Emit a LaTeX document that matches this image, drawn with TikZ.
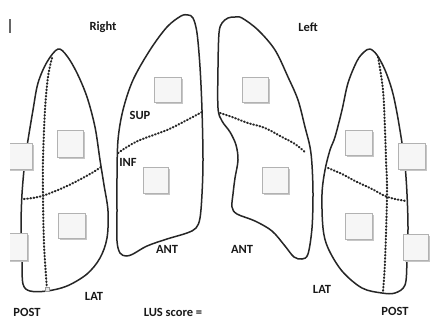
\documentclass[tikz,border=0pt]{standalone}
\usepackage{fontspec}
\setmainfont{Carlito}
\begin{document}
\begin{tikzpicture}[x=1pt,y=-1pt,
  lung/.style={draw=black!85,line width=1.5pt,line join=round},
  zone/.style={draw=black!85,line width=2.1pt,dash pattern=on 0.7pt off 2.5pt,line cap=round},
  probe/.style={fill=gray!7,draw=gray!60,line width=1pt},
  probeshadow/.style={fill=gray!45,draw=none},
  lbl/.style={font=\bfseries\fontsize{12.5}{13}\selectfont,text=black!90,inner sep=0pt}]
\useasboundingbox (0,0) rectangle (435,322);
\fill[white] (0,0) rectangle (435,322);

% small mark at the upper left edge
\draw[black!60,line width=1.6pt] (10,19) -- (10,33);

% right lung, lateral view
\draw[lung] plot[smooth cycle,tension=0.55] coordinates {
  (58,49) (67,56) (77,73) (87,97) (95,127) (100,160) (104,185) (108,211)
  (107,238) (100,258) (87,274) (67,286) (47,291) (30,291) (23,284) (22,261)
  (21,228) (22,194) (25,160) (28,140) (33,110) (38,83) (47,62)};
\draw[zone] plot[smooth,tension=0.6] coordinates {
  (52,58) (48,77) (45,110) (43,160) (43,194) (44,244) (47,289)};
\draw[zone] plot[smooth,tension=0.6] coordinates {
  (24,199) (42,196) (67,186) (90,174) (101,167)};
\draw[gray!80,fill=gray!20,line width=0.6pt] (45,287) rectangle (49,291);

% right lung, anterior view
\draw[lung] plot[smooth cycle,tension=0.55] coordinates {
  (188,15) (193,18) (197,33) (200,67) (202,110) (203,160) (202,194) (200,218)
  (196,228) (187,233) (167,239) (147,246) (133,254) (126,256) (120,253)
  (117,241) (117,211) (117,178) (118,140) (123,110) (133,80) (150,50)
  (167,27) (181,16)};
\draw[zone] plot[smooth,tension=0.6] coordinates {
  (118,153) (127,147) (140,140) (167,130) (187,120) (202,112)};

% left lung, anterior view
\draw[lung] plot[smooth cycle,tension=0.55] coordinates {
  (235,17) (242,18) (258,30) (275,50) (288,77) (298,100) (305,127) (310,147)
  (312,165) (313,194) (312,228) (308,254) (302,259) (294,257) (285,246)
  (272,231) (255,221) (237,214) (232,207) (233,194) (235,178) (238,160)
  (236,145) (230,132) (222,121) (218,108) (218,67) (219,33) (222,23) (228,18)};
\draw[zone] plot[smooth,tension=0.6] coordinates {
  (220,113) (232,117) (248,123) (265,128) (282,137) (295,144) (306,153)};

% left lung, lateral view
\draw[lung] plot[smooth cycle,tension=0.55] coordinates {
  (370,49) (377,55) (385,70) (392,90) (397,113) (402,143) (405,165) (407,194)
  (408,228) (407,261) (405,285) (395,293) (382,293) (362,288) (342,271)
  (328,248) (323,228) (322,194) (325,170) (330,150) (335,137) (342,110)
  (348,83) (357,61) (364,52)};
\draw[zone] plot[smooth,tension=0.6] coordinates {
  (378,57) (383,90) (385,130) (386,160) (387,194) (385,261) (383,291)};
\draw[zone] plot[smooth,tension=0.6] coordinates {
  (328,168) (342,174) (355,181) (372,189) (385,196) (395,199) (406,201)};

% probe positions
\foreach \x/\y/\w/\h in {57/130/26/27, 58/213/27/25, 154/77/27/25, 143/167/25/26,
  242/77/26/25, 262/167/26/26, 345/130/27/25, 398/143/27/26, 345/213/27/26,
  403/234/25/26} {
  \fill[probeshadow] (\x+1.5,\y+1.5) rectangle ++(\w,\h);
  \draw[probe] (\x,\y) rectangle ++(\w,\h);
}
\begin{scope}
  \clip (10,0) rectangle (435,322);
  \foreach \x/\y/\w/\h in {6/143/26/26, 1/233/26/27} {
    \fill[probeshadow] (\x+1.5,\y+1.5) rectangle ++(\w,\h);
    \draw[probe] (\x,\y) rectangle ++(\w,\h);
  }
\end{scope}

% labels
\node[lbl] (right) at (103,27) {Right};
\node[lbl] (left) at (308,27) {Left};
\node[lbl] (sup) at (140,115) {SUP};
\node[lbl] (inf) at (128,162) {INF};
\node[lbl] (antr) at (167,249) {ANT};
\node[lbl] (antl) at (242,249) {ANT};
\node[lbl] (latr) at (94,296) {LAT};
\node[lbl] (latl) at (322,289) {LAT};
\node[lbl] (postr) at (27,312) {POST};
\node[lbl] (postl) at (395,311) {POST};
\node[lbl] (score) at (173,312) {LUS score =};
\end{tikzpicture}
\end{document}
